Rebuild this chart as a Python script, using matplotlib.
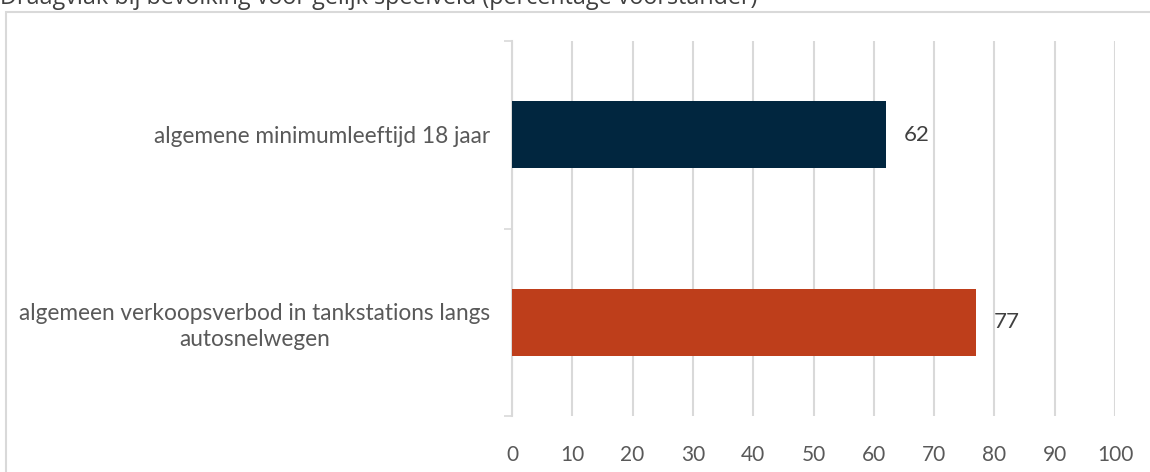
import matplotlib
matplotlib.use("Agg")
import matplotlib.pyplot as plt
from matplotlib.patches import Rectangle

categories = ["algemene minimumleeftijd 18 jaar",
              "algemeen verkoopsverbod in tankstations langs\nautosnelwegen"]
values = [62, 77]
colors = ["#01263F", "#BE3E1B"]
xticks = [0, 10, 20, 30, 40, 50, 60, 70, 80, 90, 100]
title = "Draagvlak bij bevolking voor gelijk speelveld (percentage voorstander)"

W, H = 1150, 472
fig = plt.figure(figsize=(W / 100, H / 100), dpi=100)
fig.patch.set_facecolor("white")

# outer frame
fig.patches.append(Rectangle((6 / W, -0.2), 1.2, 1 - 12 / H + 0.2,
                             transform=fig.transFigure, fill=False,
                             edgecolor="#D9D9D9", linewidth=1.5, zorder=0))

fig.text(0.0, 1 - 4 / H, title, fontsize=16.8, family=["Open Sans", "DejaVu Sans"],
         color="#404040", ha="left", va="baseline")

ax = fig.add_axes([512 / W, 1 - 416 / H, (1115 - 512) / W, (416 - 41) / H])
ypos = list(range(len(categories)))
ax.barh(ypos, values, height=0.357, color=colors, zorder=3)
ax.set_ylim(len(categories) - 0.5, -0.5)
ax.set_xlim(0, 100)
ax.set_xticks(xticks)
ax.set_xticklabels([str(t) for t in xticks])
ax.set_yticks(ypos)
ax.set_yticklabels(categories, ha="right", multialignment="center", linespacing=1.3)
ax.tick_params(axis="y", pad=16, length=0)
ax.set_yticks([-0.5, 0.5, 1.5], minor=True)
ax.tick_params(axis="y", which="minor", length=6, color="#D9D9D9", width=1.2)
ax.tick_params(axis="x", length=0, pad=21)
for lab in ax.get_xticklabels():
    lab.set_fontfamily(["Lato", "DejaVu Sans"])
    lab.set_fontsize(15)
    lab.set_color("#595959")
for lab in ax.get_yticklabels():
    lab.set_fontfamily(["Lato", "DejaVu Sans"])
    lab.set_fontsize(16.3)
    lab.set_color("#595959")

ax.grid(axis="x", color="#D9D9D9", linewidth=1.5, zorder=0)
for s in ["top", "right", "bottom"]:
    ax.spines[s].set_visible(False)
ax.spines["left"].set_color("#D9D9D9")
ax.spines["left"].set_linewidth(1.5)

for y, v in zip(ypos, values):
    ax.text(v + 2.9, y, str(v), va="center", ha="left", fontsize=16,
            family=["Lato", "DejaVu Sans"], color="#404040", zorder=4)

fig.savefig("out.png", dpi=100, facecolor="white")
